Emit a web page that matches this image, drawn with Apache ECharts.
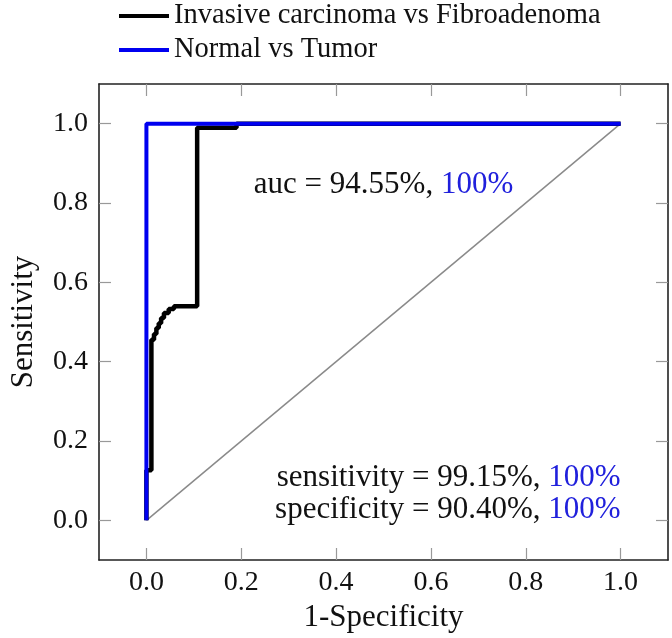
<!DOCTYPE html>
<html>
<head>
<meta charset="utf-8">
<script src="https://cdn.jsdelivr.net/npm/echarts@6/dist/echarts.min.js"></script>
<style>html,body{margin:0;padding:0;background:#fff;}#c{width:672px;height:638px;}</style>
</head>
<body>
<div id="c"></div>
<script>
// ---- data ----
const seriesNames = ['Invasive carcinoma vs Fibroadenoma', 'Normal vs Tumor'];
const invasiveFpr = [0, 0, 0.0105, 0.0105, 0.016, 0.016, 0.021, 0.021, 0.026, 0.026, 0.031, 0.031, 0.037, 0.037, 0.047, 0.047, 0.058, 0.058, 0.107, 0.107, 0.19, 0.19, 1.0];
const invasiveTpr = [0, 0.126, 0.126, 0.455, 0.455, 0.47, 0.47, 0.485, 0.485, 0.497, 0.497, 0.51, 0.51, 0.523, 0.523, 0.533, 0.533, 0.54, 0.54, 0.99, 0.99, 1.0, 1.0];
const normalFpr = [0, 0, 1.0];
const normalTpr = [0, 1.0, 1.0];
const chanceFpr = [0, 1];
const chanceTpr = [0, 1];
const tickValues = [0, 0.2, 0.4, 0.6, 0.8, 1.0];
const aucText = ['94.55%', '100%'];
const sensText = ['99.15%', '100%'];
const specText = ['90.40%', '100%'];
const aucPos = [0.5, 0.845];
const statsPos = [1.0, 0.0655];

const zip = (a, b) => a.map((v, i) => [v, b[i]]);
const FONT = '"Liberation Serif", "DejaVu Serif", serif';
const BLUE_TXT = '#2020dc';
const TXT = '#111';

function xAxisCfg(pos, labels) {
  return {
    type: 'value', position: pos, min: -0.1, max: 1.1,
    axisLine: { show: true, onZero: false, lineStyle: { color: '#222', width: 1.6 } },
    axisTick: { show: true, inside: true, length: 12, customValues: tickValues, lineStyle: { color: '#999', width: 1.2 } },
    axisLabel: { show: labels, customValues: tickValues, formatter: v => v.toFixed(1), fontFamily: FONT, fontSize: 28, color: TXT, margin: 9 },
    splitLine: { show: false }
  };
}
function yAxisCfg(pos, labels) {
  return {
    type: 'value', position: pos, min: -0.1, max: 1.1,
    axisLine: { show: true, onZero: false, lineStyle: { color: '#222', width: 1.6 } },
    axisTick: { show: true, inside: true, length: 12, customValues: tickValues, lineStyle: { color: '#999', width: 1.2 } },
    axisLabel: { show: labels, customValues: tickValues, formatter: v => v.toFixed(1), fontFamily: FONT, fontSize: 28, color: TXT, margin: 11 },
    splitLine: { show: false }
  };
}

const xb = xAxisCfg('bottom', true);
xb.name = '1-Specificity'; xb.nameLocation = 'middle'; xb.nameGap = 41;
xb.nameTextStyle = { fontFamily: FONT, fontSize: 31, color: TXT };
const yl = yAxisCfg('left', true);
yl.name = 'Sensitivity'; yl.nameLocation = 'middle'; yl.nameGap = 60;
yl.nameTextStyle = { fontFamily: FONT, fontSize: 31, color: TXT };

const chart = echarts.init(document.getElementById('c'), null, { renderer: 'canvas' });
chart.setOption({
  animation: false,
  backgroundColor: '#fff',
  grid: { left: 97, top: 84, right: 4, bottom: 78, containLabel: false },
  legend: {
    left: 114, top: -5, orient: 'vertical', itemGap: 2,
    icon: 'rect', itemWidth: 50, itemHeight: 4,
    textStyle: { fontFamily: FONT, fontSize: 28.5, color: TXT, lineHeight: 32 },
    data: seriesNames
  },
  xAxis: [xb, xAxisCfg('top', false)],
  yAxis: [yl, yAxisCfg('right', false)],
  series: [
    { type: 'line', data: zip(chanceFpr, chanceTpr), showSymbol: false, silent: true,
      lineStyle: { color: '#8a8a8a', width: 1.5 }, z: 1 },
    { name: seriesNames[0], type: 'line', data: zip(invasiveFpr, invasiveTpr), showSymbol: false,
      color: '#000', lineStyle: { color: '#000', width: 4.5 }, z: 2 },
    { name: seriesNames[1], type: 'line', data: zip(normalFpr, normalTpr), showSymbol: false,
      color: '#0000f0', lineStyle: { color: '#0000f0', width: 4 }, z: 3 },
    { type: 'scatter', symbolSize: 0, silent: true, z: 5, itemStyle: { opacity: 1 },
      data: [aucPos],
      label: { show: true, position: 'inside', align: 'center', verticalAlign: 'middle',
        formatter: '{a|auc = ' + aucText[0] + ', }{b|' + aucText[1] + '}',
        rich: { a: { fontFamily: FONT, fontSize: 31, color: TXT }, b: { fontFamily: FONT, fontSize: 31, color: BLUE_TXT } } } },
    { type: 'scatter', symbolSize: 0, silent: true, z: 5, itemStyle: { opacity: 1 },
      data: [statsPos],
      label: { show: true, position: 'left', distance: 0, align: 'right', verticalAlign: 'middle', lineHeight: 32,
        formatter: '{a|sensitivity = ' + sensText[0] + ', }{b|' + sensText[1] + '}\n{a|specificity = ' + specText[0] + ', }{b|' + specText[1] + '}',
        rich: { a: { fontFamily: FONT, fontSize: 31, color: TXT, lineHeight: 32, align: 'right' }, b: { fontFamily: FONT, fontSize: 31, color: BLUE_TXT, lineHeight: 32, align: 'right' } } } }
  ]
});
</script>
</body>
</html>
